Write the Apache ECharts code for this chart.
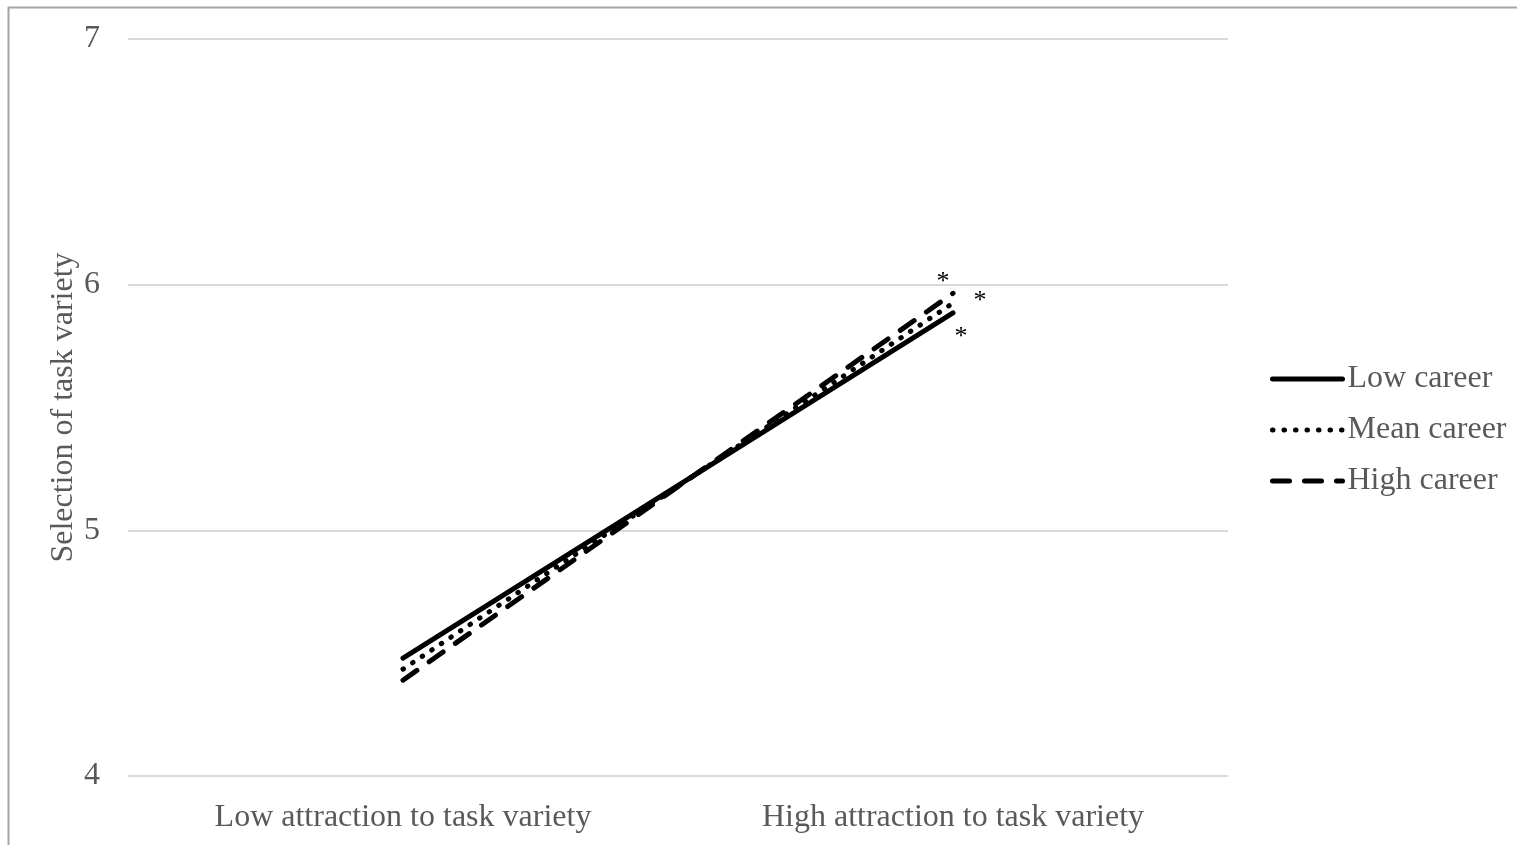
<!DOCTYPE html>
<html>
<head>
<meta charset="utf-8">
<script src="https://cdn.jsdelivr.net/npm/echarts@6/dist/echarts.min.js"></script>
<style>
html,body{margin:0;padding:0;background:#fff;}
#chart{width:1517px;height:845px;}
</style>
</head>
<body>
<div id="chart"></div>
<script>
var categories = ['Low attraction to task variety', 'High attraction to task variety'];
var lowCareer = [4.48, 5.885];
var meanCareer = [4.435, 5.925];
var highCareer = [4.39, 5.965];
var seriesNames = ['Low career', 'Mean career', 'High career'];
var starLabels = ['', '*'];
var yTicks = [4, 5, 6, 7];

var FONT = '"Liberation Serif", "Times New Roman", serif';
var GREY = '#595959';

function withStar(values, offset) {
  return values.map(function (v, i) {
    if (!starLabels[i]) return {value: v};
    return {
      value: v,
      label: {
        show: true, formatter: starLabels[i], position: 'inside', offset: offset,
        fontFamily: FONT, fontSize: 26, color: '#000'
      }
    };
  });
}

function lineSeries(name, values, offset, type, z) {
  return {
    name: name, type: 'line', data: withStar(values, offset),
    symbol: 'circle', symbolSize: 0, showSymbol: true, color: '#000',
    itemStyle: {color: '#000'},
    lineStyle: {color: '#000', width: 5, type: type, cap: 'round'}, z: z
  };
}

var chart = echarts.init(document.getElementById('chart'), null, {renderer: 'canvas'});
chart.setOption({
  animation: false,
  backgroundColor: '#fff',
  graphic: [{
    type: 'rect', shape: {x: 8.5, y: 7.5, width: 2000, height: 2000},
    style: {fill: 'none', stroke: '#a6a6a6', lineWidth: 2}, silent: true, z: -10
  }],
  grid: {left: 128, right: 289, top: 39, bottom: 69, containLabel: false},
  legend: {
    orient: 'vertical', left: 1265, top: 358, itemGap: 19,
    itemWidth: 70, itemHeight: 28,
    itemStyle: {opacity: 0},
    lineStyle: {width: 5, cap: 'round'},
    textStyle: {fontFamily: FONT, fontSize: 32, color: GREY},
    data: seriesNames
  },
  xAxis: {
    type: 'category', data: categories, boundaryGap: true,
    axisLine: {show: false}, axisTick: {show: false},
    axisLabel: {fontFamily: FONT, fontSize: 32, color: GREY, margin: 26}
  },
  yAxis: {
    type: 'value', min: yTicks[0], max: yTicks[yTicks.length - 1], interval: 1,
    name: 'Selection of task variety', nameLocation: 'middle', nameGap: 48,
    nameMoveOverlap: false,
    nameTextStyle: {fontFamily: FONT, fontSize: 32, color: GREY},
    axisLine: {show: false}, axisTick: {show: false},
    axisLabel: {fontFamily: FONT, fontSize: 32, color: GREY, margin: 28},
    splitLine: {lineStyle: {color: '#d9d9d9', width: 2}}
  },
  series: [
    lineSeries(seriesNames[0], lowCareer, [8, 24], 'solid', 3),
    lineSeries(seriesNames[1], meanCareer, [27, -2], [0.5, 11], 4),
    lineSeries(seriesNames[2], highCareer, [-10, -11], [17, 15], 5)
  ]
});
</script>
</body>
</html>
